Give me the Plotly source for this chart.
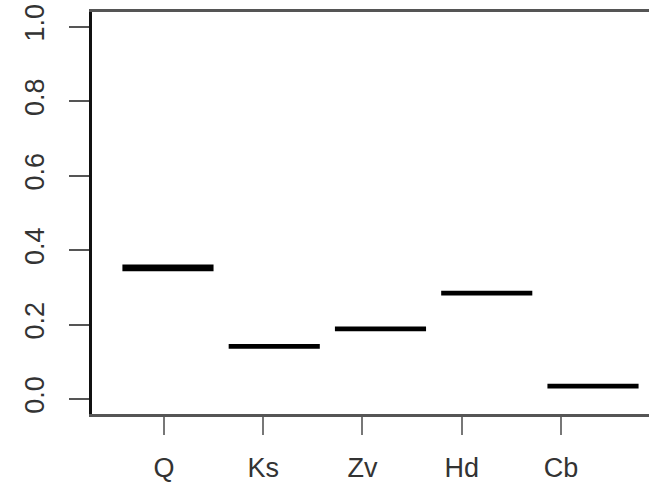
import plotly.graph_objects as go

categories = ["Q", "Ks", "Zv", "Hd", "Cb"]
q1_vals = [0.349, 0.141, 0.188, 0.284, 0.034]
median_vals = [0.352, 0.142, 0.189, 0.285, 0.035]
q3_vals = [0.356, 0.143, 0.190, 0.286, 0.036]
y_ticks = [0.0, 0.2, 0.4, 0.6, 0.8, 1.0]

fig = go.Figure()
fig.add_trace(go.Box(
    x=categories, q1=q1_vals, median=median_vals, q3=q3_vals,
    lowerfence=q1_vals, upperfence=q3_vals,
    xaxis="x2", yaxis="y",
    width=0.82, line=dict(color="black", width=4),
    fillcolor="#888", boxpoints=False, showlegend=False, hoverinfo="skip",
))
# invisible trace to keep the tick axis categories
fig.add_trace(go.Scatter(x=categories, y=median_vals, mode="markers",
                         marker=dict(opacity=0), xaxis="x", showlegend=False,
                         hoverinfo="skip"))

font = dict(family="Liberation Sans, Arial, sans-serif", size=27, color="#333")
fig.update_layout(
    width=649, height=485,
    margin=dict(l=92, r=0, t=12, b=71),
    paper_bgcolor="white", plot_bgcolor="white",
    font=font,
    xaxis=dict(
        type="category", categoryorder="array", categoryarray=categories,
        range=[-0.725, 4.887],
        showline=True, mirror=True, linecolor="#555", linewidth=2.5,
        ticks="outside", ticklen=18, tickwidth=2, tickcolor="#777",
        showgrid=False, zeroline=False, tickfont=font,
        ticklabelstandoff=10,
    ),
    xaxis2=dict(
        type="category", categoryorder="array", categoryarray=categories,
        range=[-0.715, 4.527], overlaying="x", visible=False,
    ),
    yaxis=dict(
        range=[-0.04, 1.04],
        tickvals=y_ticks, tickformat=".1f", tickangle=-90,
        showline=True, linecolor="#111", linewidth=2.5,
        ticks="outside", ticklen=20, tickwidth=2, tickcolor="#555",
        showgrid=False, zeroline=False, tickfont=font,
        ticklabelstandoff=14,
    ),
)
fig.write_html("out.html")
